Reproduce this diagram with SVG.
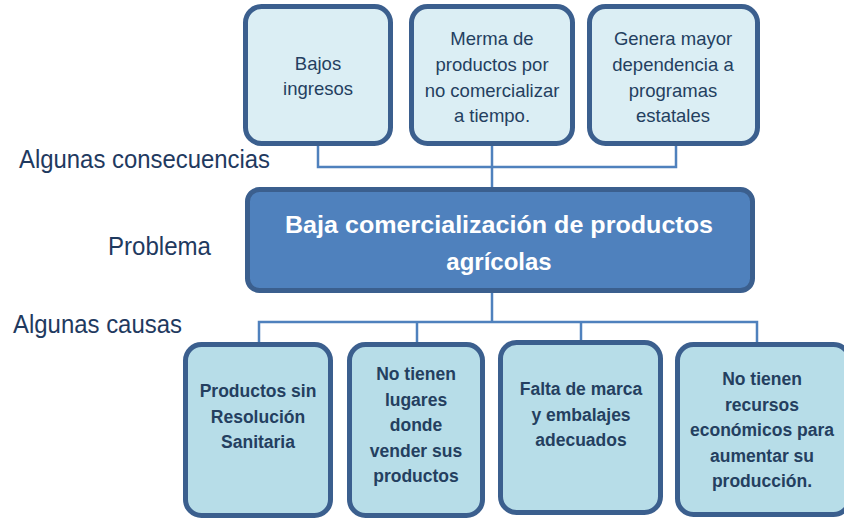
<svg xmlns="http://www.w3.org/2000/svg" width="844" height="518" viewBox="0 0 844 518">
<style>
.top rect{fill:#dbeef4;stroke:#3b5f8e;stroke-width:5}
.bot rect{fill:#b7dde8;stroke:#3b5f8e;stroke-width:5}
.top text{font-family:"Liberation Sans",Arial,sans-serif;font-size:18.5px;fill:#243f60;text-anchor:middle}
.bot text{font-family:"Liberation Sans",Arial,sans-serif;font-size:17.5px;font-weight:bold;fill:#243f60;text-anchor:middle}
.lbl{font-family:"Liberation Sans",Arial,sans-serif;font-size:25.5px;fill:#1f3a5f}
#connectors path{fill:none;stroke:#4f81bd;stroke-width:2.5}
</style>
<rect width="844" height="518" fill="#ffffff"/>
<g id="connectors">
<path d="M318,145 V167 H676 V145"/>
<path d="M492,145 V188"/>
<path d="M492,293 V322"/>
<path d="M259,343 V322 H757 V343"/>
<path d="M417,322 V343"/>
<path d="M581,322 V341"/>
</g>
<g id="lbl-consecuencias"><text class="lbl" x="19" y="168" textLength="251" lengthAdjust="spacingAndGlyphs">Algunas consecuencias</text></g>
<g id="lbl-problema"><text class="lbl" x="108" y="255" textLength="103" lengthAdjust="spacingAndGlyphs">Problema</text></g>
<g id="lbl-causas"><text class="lbl" x="13" y="333" textLength="169" lengthAdjust="spacingAndGlyphs">Algunas causas</text></g>
<g id="c1" class="top">
<rect x="245.5" y="6.5" width="145" height="137" rx="16"/>
<text x="318" y="70">Bajos</text>
<text x="318" y="95">ingresos</text>
</g>
<g id="c2" class="top">
<rect x="411.5" y="6.5" width="161" height="137" rx="16"/>
<text x="492" y="45">Merma de</text>
<text x="492" y="71">productos por</text>
<text x="492" y="97">no comercializar</text>
<text x="492" y="122">a tiempo.</text>
</g>
<g id="c3" class="top">
<rect x="589.5" y="6.5" width="168" height="137" rx="16"/>
<text x="673" y="45">Genera mayor</text>
<text x="673" y="71">dependencia a</text>
<text x="673" y="97">programas</text>
<text x="673" y="122">estatales</text>
</g>
<g id="problema">
<rect x="247.5" y="189.5" width="505" height="101" rx="12" fill="#4f81bd" stroke="#3b5f8e" stroke-width="5"/>
<text x="499" y="233" font-family="'Liberation Sans',Arial,sans-serif" font-size="24px" font-weight="bold" fill="#ffffff" text-anchor="middle" textLength="428" lengthAdjust="spacingAndGlyphs">Baja comercialización de productos</text>
<text x="499" y="270" font-family="'Liberation Sans',Arial,sans-serif" font-size="24px" font-weight="bold" fill="#ffffff" text-anchor="middle">agrícolas</text>
</g>
<g id="k1" class="bot">
<rect x="185.5" y="344.5" width="145" height="171" rx="16"/>
<text x="258" y="397">Productos sin</text>
<text x="258" y="423">Resolución</text>
<text x="258" y="448">Sanitaria</text>
</g>
<g id="k2" class="bot">
<rect x="349.5" y="344.5" width="133" height="171" rx="16"/>
<text x="416" y="380">No tienen</text>
<text x="416" y="405.5">lugares</text>
<text x="416" y="431">donde</text>
<text x="416" y="456.5">vender sus</text>
<text x="416" y="482">productos</text>
</g>
<g id="k3" class="bot">
<rect x="500.5" y="342.5" width="160" height="170" rx="16"/>
<text x="581" y="395">Falta de marca</text>
<text x="581" y="420.5">y embalajes</text>
<text x="581" y="446">adecuados</text>
</g>
<g id="k4" class="bot">
<rect x="677.5" y="344.5" width="172" height="170" rx="16"/>
<text x="762" y="385">No tienen</text>
<text x="762" y="410.5">recursos</text>
<text x="762" y="436">económicos para</text>
<text x="762" y="461.5">aumentar su</text>
<text x="762" y="487">producción.</text>
</g>
</svg>
